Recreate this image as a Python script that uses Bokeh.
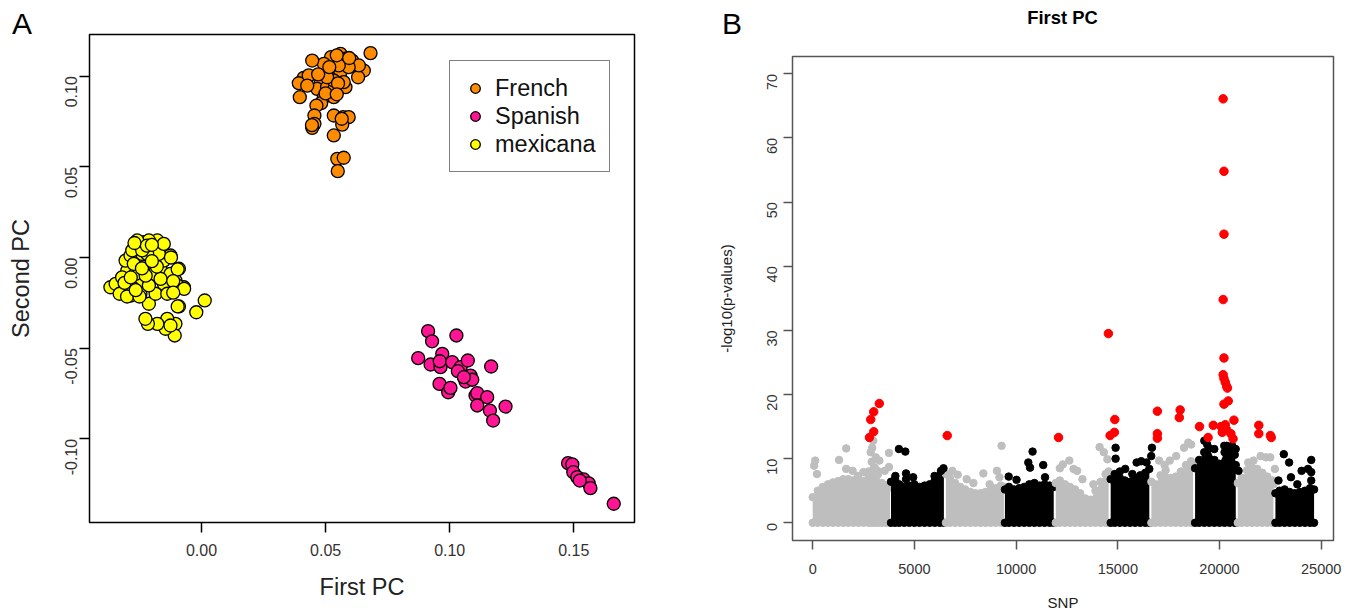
import math
from bokeh.plotting import figure
from bokeh.layouts import row, column
from bokeh.models import FixedTicker, Legend, LegendItem, Range1d, PrintfTickFormatter, Div
from bokeh.embed import file_html
from bokeh.resources import INLINE

FONT = "Liberation Sans"

# ---------------- Panel A data (PCA) ----------------
french_x = [0.0681, 0.0654, 0.0631, 0.0560, 0.0580, 0.0607, 0.0522, 0.0493, 0.0520, 0.0560,
            0.0446, 0.0412, 0.0392, 0.0396, 0.0479, 0.0466, 0.0506, 0.0536, 0.0580, 0.0493,
            0.0533, 0.0482, 0.0463, 0.0455, 0.0455, 0.0446, 0.0533, 0.0571, 0.0593, 0.0567,
            0.0533, 0.0547, 0.0573, 0.0549, 0.0634, 0.0593, 0.0553, 0.0533, 0.0573, 0.0506,
            0.0432, 0.0426, 0.0545, 0.0515, 0.0550, 0.0500, 0.0545, 0.0470, 0.0595, 0.0565,
            0.0445]
french_y = [0.1127, 0.1031, 0.0994, 0.1123, 0.1096, 0.1086, 0.1105, 0.1068, 0.1022, 0.1022,
            0.1086, 0.0991, 0.0961, 0.0884, 0.0985, 0.0930, 0.0939, 0.0930, 0.0939, 0.0884,
            0.0884, 0.0851, 0.0838, 0.0783, 0.0737, 0.0715, 0.0783, 0.0774, 0.0774, 0.0733,
            0.0673, 0.0544, 0.0550, 0.0476, 0.1059, 0.1050, 0.1059, 0.0976, 0.0967, 0.0994,
            0.1004, 0.0948, 0.1115, 0.1050, 0.0960, 0.0905, 0.0900, 0.1010, 0.1100, 0.0765,
            0.0730]

spanish_x = [0.0913, 0.0929, 0.1027, 0.0873, 0.0923, 0.0963, 0.0970, 0.0960, 0.1010, 0.1044,
             0.1073, 0.1033, 0.1064, 0.1084, 0.1091, 0.1167, 0.0959, 0.0994, 0.1003, 0.1104,
             0.1111, 0.1151, 0.1111, 0.1162, 0.1175, 0.1225, 0.1057, 0.1477, 0.1494, 0.1498,
             0.1514, 0.1540, 0.1560, 0.1567, 0.1524, 0.1661]
spanish_y = [-0.0406, -0.0462, -0.0430, -0.0555, -0.0590, -0.0605, -0.0531, -0.0572, -0.0577, -0.0605,
             -0.0568, -0.0627, -0.0684, -0.0651, -0.0674, -0.0601, -0.0697, -0.0743, -0.0719, -0.0761,
             -0.0748, -0.0770, -0.0816, -0.0844, -0.0899, -0.0822, -0.0660, -0.1134, -0.1141, -0.1184,
             -0.1211, -0.1224, -0.1245, -0.1272, -0.1230, -0.1358]

mexicana_x = [0.0013, -0.0021, -0.0091, -0.0071, -0.0091, -0.0105, -0.0125, -0.0105, -0.0108, -0.0138,
              -0.0145, -0.0178, -0.0216, -0.0226, -0.0212, -0.0152, -0.0185, -0.0246, -0.0286, -0.0326,
              -0.0367, -0.0346, -0.0299, -0.0306, -0.0286, -0.0259, -0.0232, -0.0239, -0.0192, -0.0178,
              -0.0212, -0.0259, -0.0205, -0.0232, -0.0192, -0.0246, -0.0212, -0.0299, -0.0279, -0.0165,
              -0.0152, -0.0125, -0.0172, -0.0152, -0.0320, -0.0266, -0.0273, -0.0219, -0.0279, -0.0239,
              -0.0165, -0.0138, -0.0098, -0.0096, -0.0070, -0.0114, -0.0123, -0.0096, -0.0114, -0.0125,
              -0.0330, -0.0300, -0.0250, -0.0270, -0.0220, -0.0200, -0.0225, -0.0180, -0.0310, -0.0285,
              -0.0240, -0.0200, -0.0265]
mexicana_y = [-0.0237, -0.0302, -0.0270, -0.0164, -0.0062, -0.0127, 0.0011, -0.0366, -0.0430, -0.0338,
              -0.0393, -0.0366, -0.0366, -0.0338, -0.0255, -0.0145, -0.0200, -0.0200, -0.0210, -0.0182,
              -0.0164, -0.0145, -0.0072, -0.0017, 0.0011, 0.0057, 0.0085, 0.0020, 0.0057, 0.0094,
              0.0094, 0.0094, -0.0017, -0.0053, -0.0090, -0.0127, -0.0154, -0.0127, -0.0164, -0.0062,
              -0.0017, -0.0090, 0.0020, 0.0075, -0.0109, -0.0090, -0.0035, 0.0020, 0.0039, 0.0039,
              -0.0118, -0.0200, -0.0154, -0.0065, -0.0173, -0.0130, 0.0000, -0.0270, -0.0194, -0.0375,
              -0.0200, -0.0215, -0.0215, 0.0080, 0.0065, 0.0070, -0.0100, -0.0050, -0.0140, -0.0110,
              -0.0060, -0.0020, -0.0180]

a_xticks = [0.00, 0.05, 0.10, 0.15]
a_yticks = [-0.10, -0.05, 0.00, 0.05, 0.10]

# ---------------- Panel B data (Manhattan) ----------------
# dense-mass upper envelope per chromosome block (SNP index, -log10 p)
env1_x = [0, 250, 500, 750, 1000, 1250, 1500, 1750, 2000, 2250, 2500, 2750, 2900, 3050, 3200, 3400, 3600, 3800]
env1_y = [4.0, 5.0, 5.6, 6.0, 6.3, 6.5, 6.8, 6.8, 6.6, 6.7, 6.5, 8.0, 9.5, 8.6, 7.5, 6.2, 5.8, 5.5]
env2_x = [3850, 4050, 4250, 4500, 4750, 5000, 5250, 5500, 5750, 6000, 6250, 6450]
env2_y = [6.4, 6.8, 6.0, 5.6, 5.8, 6.0, 5.6, 5.8, 6.0, 6.6, 7.4, 7.8]
env3_x = [6550, 6750, 7000, 7250, 7500, 7750, 8000, 8250, 8500, 8750, 9000, 9250, 9400]
env3_y = [7.6, 7.0, 6.2, 5.6, 5.2, 4.8, 4.6, 4.6, 4.8, 5.0, 5.4, 5.8, 5.6]
env4_x = [9450, 9650, 9900, 10150, 10400, 10650, 10900, 11150, 11400, 11650, 11850]
env4_y = [5.2, 5.6, 5.2, 5.4, 5.6, 6.0, 6.2, 5.8, 6.0, 5.8, 5.6]
env5_x = [11950, 12150, 12400, 12650, 12900, 13150, 13400, 13650, 13900, 14150, 14400, 14550]
env5_y = [6.2, 6.6, 6.0, 5.6, 5.2, 4.6, 3.8, 3.6, 5.0, 6.4, 7.6, 8.0]
env6_x = [14650, 14850, 15100, 15350, 15600, 15850, 16100, 16350, 16550]
env6_y = [6.8, 7.6, 7.0, 6.6, 6.4, 7.0, 7.4, 7.8, 8.4]
env7_x = [16650, 16850, 17100, 17350, 17600, 17850, 18100, 18350, 18600, 18700]
env7_y = [6.4, 6.0, 7.4, 8.2, 7.0, 7.2, 8.0, 9.0, 9.6, 9.0]
env8_x = [18800, 19000, 19250, 19500, 19750, 20000, 20250, 20500, 20750, 20800]
env8_y = [8.5, 9.8, 11.0, 11.6, 9.8, 9.2, 11.0, 11.4, 10.6, 9.0]
env9_x = [20900, 21100, 21350, 21600, 21850, 22100, 22350, 22600, 22650]
env9_y = [6.2, 7.0, 8.2, 8.6, 8.4, 7.8, 7.2, 6.6, 6.0]
env10_x = [22750, 22950, 23200, 23450, 23700, 23950, 24200, 24450, 24650]
env10_y = [4.6, 5.0, 5.2, 4.8, 4.6, 4.8, 5.0, 5.4, 5.2]

# isolated non-significant SNPs above the dense mass
gray_x = [70, 123, 210, 1296, 1647, 1647, 1962, 2225, 2488, 2750, 2926, 2978, 2850, 3101, 3189, 3276, 3539, 3750, 3750,
          6868, 7130, 7570, 7900, 8392, 8700, 9058, 9180, 9286,
          12150, 12300, 12615, 12825, 13000, 13263, 13800, 14104, 14314, 14489,
          17030, 17300, 17555, 17870, 18255, 18466, 18605,
          21410, 21673, 22023, 22285, 22495, 22723]
gray_y = [8.9, 9.7, 7.6, 9.8, 11.6, 8.4, 8.1, 7.3, 7.9, 7.3, 11.7, 12.8, 11.0, 10.2, 8.1, 9.7, 8.1, 10.9, 8.7,
          8.1, 7.5, 6.8, 6.2, 7.7, 6.0, 8.1, 7.1, 12.0,
          8.5, 9.1, 9.7, 8.4, 8.1, 6.8, 6.0, 11.8, 11.0, 9.9,
          9.7, 9.0, 9.7, 10.4, 11.7, 12.5, 12.2,
          9.4, 9.7, 10.4, 10.2, 10.2, 8.4]
black_x = [4065, 4240, 4555, 4590, 4590, 4940, 5990, 6307, 6430,
           9636, 10021, 10600, 10687, 10810, 11335, 11423,
           14892, 14892, 15100, 15365, 15715, 15925, 16153, 16415, 16643, 16678,
           19254, 19394, 19744, 20235, 20357, 20620, 20796, 20708, 20936,
           22898, 23161, 23424, 23512, 23827, 24037, 24352, 24510, 24510, 24510]
black_y = [7.3, 11.5, 11.1, 7.7, 6.8, 7.1, 7.3, 8.1, 8.5,
           7.2, 6.7, 9.4, 8.6, 11.1, 9.0, 7.1,
           11.7, 10.0, 8.0, 8.4, 7.6, 9.4, 9.6, 9.4, 10.4, 11.7,
           12.8, 12.2, 11.5, 12.0, 12.0, 12.0, 11.5, 8.9, 8.1,
           6.6, 10.7, 9.4, 7.1, 6.0, 8.1, 8.4, 9.8, 7.9, 6.6]

# significant SNPs (red)
red_x = [20180, 20220, 20220, 20180, 14537, 20220, 20180, 20220, 20285, 20350,
         20390, 20220, 20430, 3275, 3000, 2853, 3000, 2790, 6614, 12087,
         14622, 14833, 14854, 16946, 16946, 16946, 18066, 18024, 19017, 19440,
         19694, 20075, 20137, 20285, 20350, 20560, 20710, 20667, 21933, 21933,
         22503, 22545]
red_y = [66.1, 54.8, 45.0, 34.8, 29.5, 25.7, 23.1, 22.5, 21.9, 21.3,
         21.0, 18.5, 19.0, 18.6, 17.3, 16.1, 14.2, 13.3, 13.6, 13.3,
         13.6, 14.1, 16.1, 17.4, 13.9, 13.2, 17.6, 16.4, 15.0, 13.3,
         15.2, 15.0, 14.1, 15.3, 14.5, 13.9, 16.0, 13.1, 15.2, 13.9,
         13.6, 13.3]

b_xticks = [0, 5000, 10000, 15000, 20000, 25000]
b_yticks = [0, 10, 20, 30, 40, 50, 60, 70]

TOP_H = 33          # height of the strip that holds panel letters and panel-B title
FIG_H = 614 - TOP_H


def style_axis(ax, tick_out, label_size, title_size, tick_color, label_color):
    ax.axis_line_color = None
    ax.major_tick_in = 0
    ax.major_tick_out = tick_out
    ax.major_tick_line_color = tick_color
    ax.major_tick_line_width = 1.5
    ax.minor_tick_line_color = None
    ax.major_label_text_font = FONT
    ax.major_label_text_font_size = label_size
    ax.major_label_text_color = label_color
    ax.axis_label_text_font = FONT
    ax.axis_label_text_font_size = title_size
    ax.axis_label_text_font_style = "normal"
    ax.axis_label_text_color = "#222222"


def no_align(p):
    try:
        p.frame_align = False
    except Exception:
        pass


# ---------------- Panel A ----------------
pa = figure(width=700, height=FIG_H, frame_width=545, frame_height=488,
            output_backend="svg", toolbar_location=None,
            x_range=Range1d(-0.04513, 0.17446), y_range=Range1d(-0.14613, 0.12297),
            min_border_left=89, min_border_right=66, min_border_top=1, min_border_bottom=FIG_H - 1 - 488)
no_align(pa)
pa.grid.visible = False
pa.outline_line_color = "black"
pa.outline_line_width = 1.5
pa.border_fill_alpha = 0
pa.background_fill_color = "white"

style_axis(pa.xaxis[0], 10, "16px", "23.5px", "black", "#333333")
style_axis(pa.yaxis[0], 10, "16px", "23.5px", "black", "#333333")
pa.xaxis.ticker = FixedTicker(ticks=a_xticks)
pa.yaxis.ticker = FixedTicker(ticks=a_yticks)
pa.xaxis.formatter = PrintfTickFormatter(format="%.2f")
pa.yaxis.formatter = PrintfTickFormatter(format="%.2f")
pa.yaxis.major_label_orientation = math.pi / 2
pa.xaxis.axis_label = "First PC"
pa.yaxis.axis_label = "Second PC"
pa.xaxis.major_label_standoff = 11
pa.xaxis.axis_label_standoff = 15
pa.yaxis.major_label_standoff = 8
pa.yaxis.axis_label_standoff = 23

rf = pa.scatter(french_x, french_y, size=13, fill_color="#FF8C00", line_color="black", line_width=1.3)
rs = pa.scatter(spanish_x, spanish_y, size=13, fill_color="#FF1493", line_color="black", line_width=1.3)
rm = pa.scatter(mexicana_x, mexicana_y, size=13, fill_color="#FFFF00", line_color="black", line_width=1.3)

legend = Legend(items=[LegendItem(label="French", renderers=[rf]),
                       LegendItem(label="Spanish", renderers=[rs]),
                       LegendItem(label="mexicana", renderers=[rm])],
                location=(360, 350))
legend.label_text_font = FONT
legend.label_text_font_size = "23.5px"
legend.label_text_color = "#111111"
legend.padding = 13
legend.spacing = 0
legend.glyph_width = 24
legend.glyph_height = 24
legend.label_standoff = 8
legend.label_height = 28
legend.border_line_color = "black"
legend.border_line_width = 1.5
legend.background_fill_alpha = 1.0
pa.add_layout(legend)

# ---------------- Panel B ----------------
pb = figure(width=655, height=FIG_H, frame_width=541, frame_height=484,
            output_backend="svg", toolbar_location=None,
            x_range=Range1d(-993, 25605), y_range=Range1d(-2.76, 72.7),
            min_border_left=92, min_border_right=22, min_border_top=56 - TOP_H,
            min_border_bottom=FIG_H - (56 - TOP_H) - 484)
no_align(pb)
pb.grid.visible = False
pb.outline_line_color = "#555555"
pb.outline_line_width = 1.5
pb.border_fill_alpha = 0

style_axis(pb.xaxis[0], 9, "14.5px", "15px", "#555555", "#333333")
style_axis(pb.yaxis[0], 9, "14.5px", "15px", "#555555", "#333333")
pb.xaxis.ticker = FixedTicker(ticks=b_xticks)
pb.yaxis.ticker = FixedTicker(ticks=b_yticks)
pb.yaxis.major_label_orientation = math.pi / 2
pb.xaxis.axis_label = "SNP"
pb.yaxis.axis_label = "-log10(p-values)"
pb.xaxis.major_label_standoff = 14
pb.xaxis.axis_label_standoff = 17
pb.yaxis.major_label_standoff = 11
pb.yaxis.axis_label_standoff = 25

GRAY = "#BEBEBE"
blocks = [(env1_x, env1_y, GRAY), (env2_x, env2_y, "black"), (env3_x, env3_y, GRAY),
          (env4_x, env4_y, "black"), (env5_x, env5_y, GRAY), (env6_x, env6_y, "black"),
          (env7_x, env7_y, GRAY), (env8_x, env8_y, "black"), (env9_x, env9_y, GRAY),
          (env10_x, env10_y, "black")]
for ex, ey, col in blocks:
    pb.varea(x=ex, y1=[0] * len(ex), y2=ey, fill_color=col)
    pb.scatter(ex, ey, size=7.5, color=col)
    pb.scatter(ex, [0] * len(ex), size=7.5, color=col)

pb.scatter(gray_x, gray_y, size=7.5, color=GRAY)
pb.scatter(black_x, black_y, size=7.5, color="black")
pb.scatter(red_x, red_y, size=8.5, color="#FF0000")

# ---------------- top strip: panel letters and panel-B title ----------------
top_html = (
    '<div style="position:relative;width:1355px;height:%dpx;font-family:\'Liberation Sans\',Arial,sans-serif;color:#000;">'
    '<span style="position:absolute;left:12px;top:8.6px;font-size:30px;line-height:30px;white-space:nowrap;">A</span>'
    '<span style="position:absolute;left:722px;top:8.6px;font-size:30px;line-height:30px;white-space:nowrap;">B</span>'
    '<span style="position:absolute;left:1062.5px;top:8.6px;transform:translateX(-50%%);font-size:18.4px;'
    'line-height:18.4px;font-weight:bold;white-space:nowrap;">First PC</span>'
    '</div>' % TOP_H
)
top = Div(text=top_html, width=1355, height=TOP_H, margin=(0, 0, 0, 0))

layout = column(top, row(pa, pb, spacing=0), spacing=0)
open("out.html", "w").write(file_html(layout, INLINE))
